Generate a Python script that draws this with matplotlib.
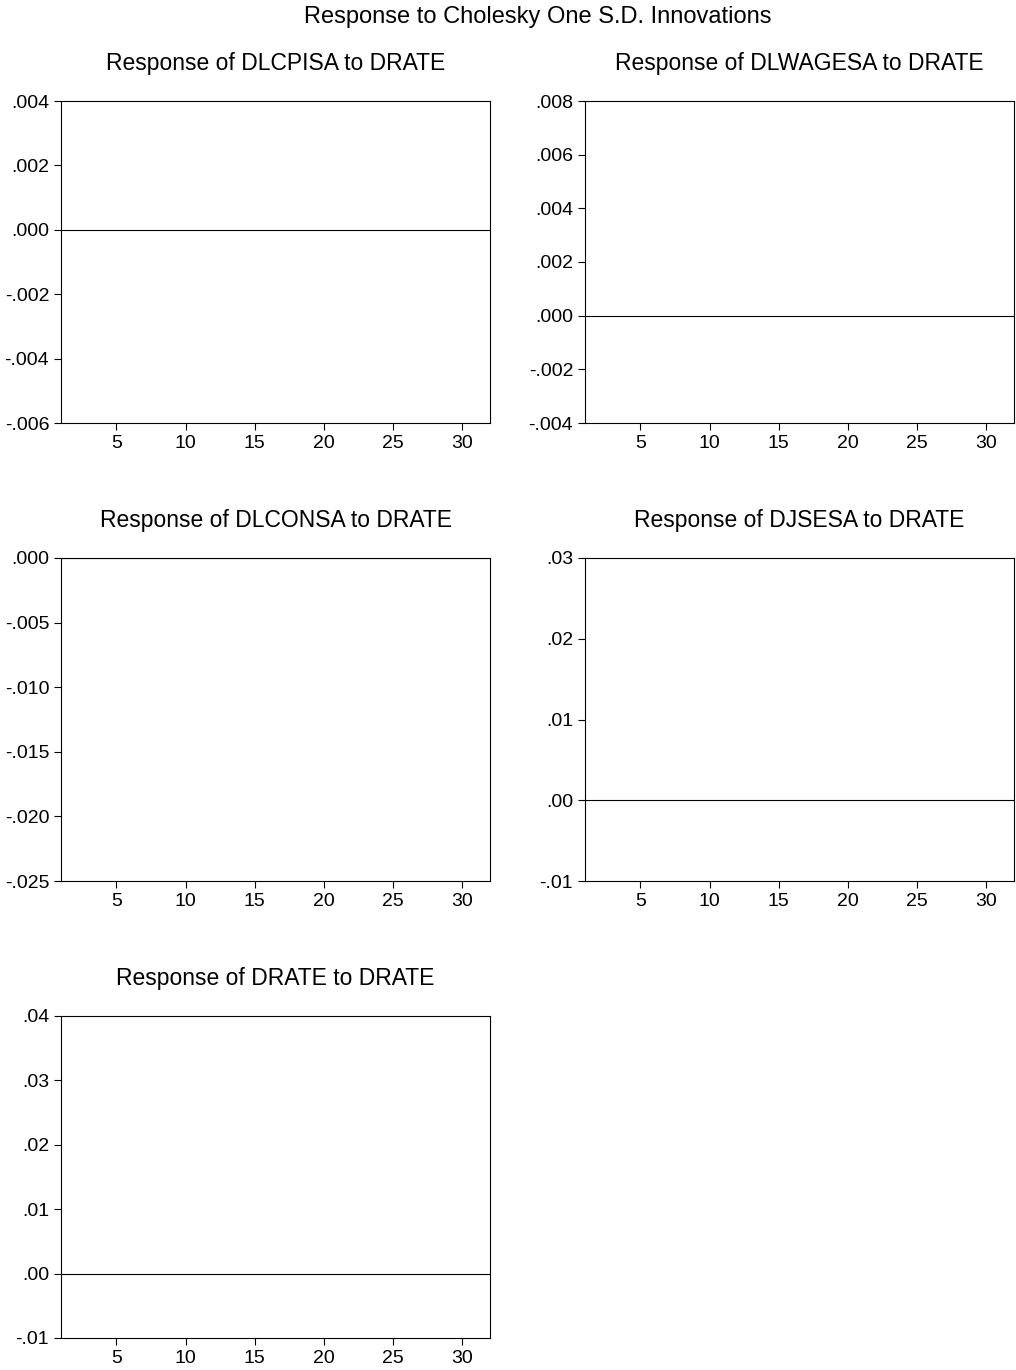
import matplotlib
matplotlib.use('Agg')
import matplotlib.pyplot as plt
import numpy as np

plt.rcParams['font.family'] = ['Liberation Sans', 'DejaVu Sans']

# panel titles and y scales
titles = [
    'Response of DLCPISA to DRATE',
    'Response of DLWAGESA to DRATE',
    'Response of DLCONSA to DRATE',
    'Response of DJSESA to DRATE',
    'Response of DRATE to DRATE',
]
y_min = [-0.006, -0.004, -0.025, -0.01, -0.01]
y_max = [0.004, 0.008, 0.000, 0.03, 0.04]
y_step = [0.002, 0.002, 0.005, 0.01, 0.01]
y_dec = [3, 3, 3, 2, 2]
x_ticks = [5, 10, 15, 20, 25, 30]
x_range = (1, 32)
zero_line = [0.0, 0.0, 0.0, 0.0, 0.0]

fig = plt.figure(figsize=(10.16, 13.70), dpi=100)

# axes boxes in pixels: left, top, right, bottom
W, H = 1016, 1370
boxes = [
    (61, 101, 490, 423),
    (585, 101, 1014, 423),
    (61, 558, 490, 881),
    (585, 558, 1014, 881),
    (61, 1016, 490, 1338),
]


def fmt(v, d):
    s = f'{v:.{d}f}'
    if s.startswith('-0'):
        s = '-' + s[2:]
    elif s.startswith('0'):
        s = s[1:]
    return s


for i, (l, t, r, b) in enumerate(boxes):
    ax = fig.add_axes([l / W, 1 - b / H, (r - l) / W, (b - t) / H])
    ax.axhline(zero_line[i], color='black', lw=0.8)
    ax.set_xlim(*x_range)
    ax.set_ylim(y_min[i], y_max[i])
    n = int(round((y_max[i] - y_min[i]) / y_step[i]))
    yt = [y_min[i] + k * y_step[i] for k in range(n + 1)]
    ax.set_yticks(yt)
    ax.set_yticklabels([fmt(v, y_dec[i]) for v in yt])
    ax.set_xticks(x_ticks)
    ax.tick_params(direction='out', length=5, width=0.8, labelsize=14, pad=3.5)
    for s in ax.spines.values():
        s.set_linewidth(0.8)
    ax.set_title(titles[i], fontsize=16.5, pad=22.3)

fig.suptitle('Response to Cholesky One S.D. Innovations', fontsize=17,
             x=538 / W, y=1 - 23 / H, va='baseline')

fig.savefig('out.png', dpi=100)
